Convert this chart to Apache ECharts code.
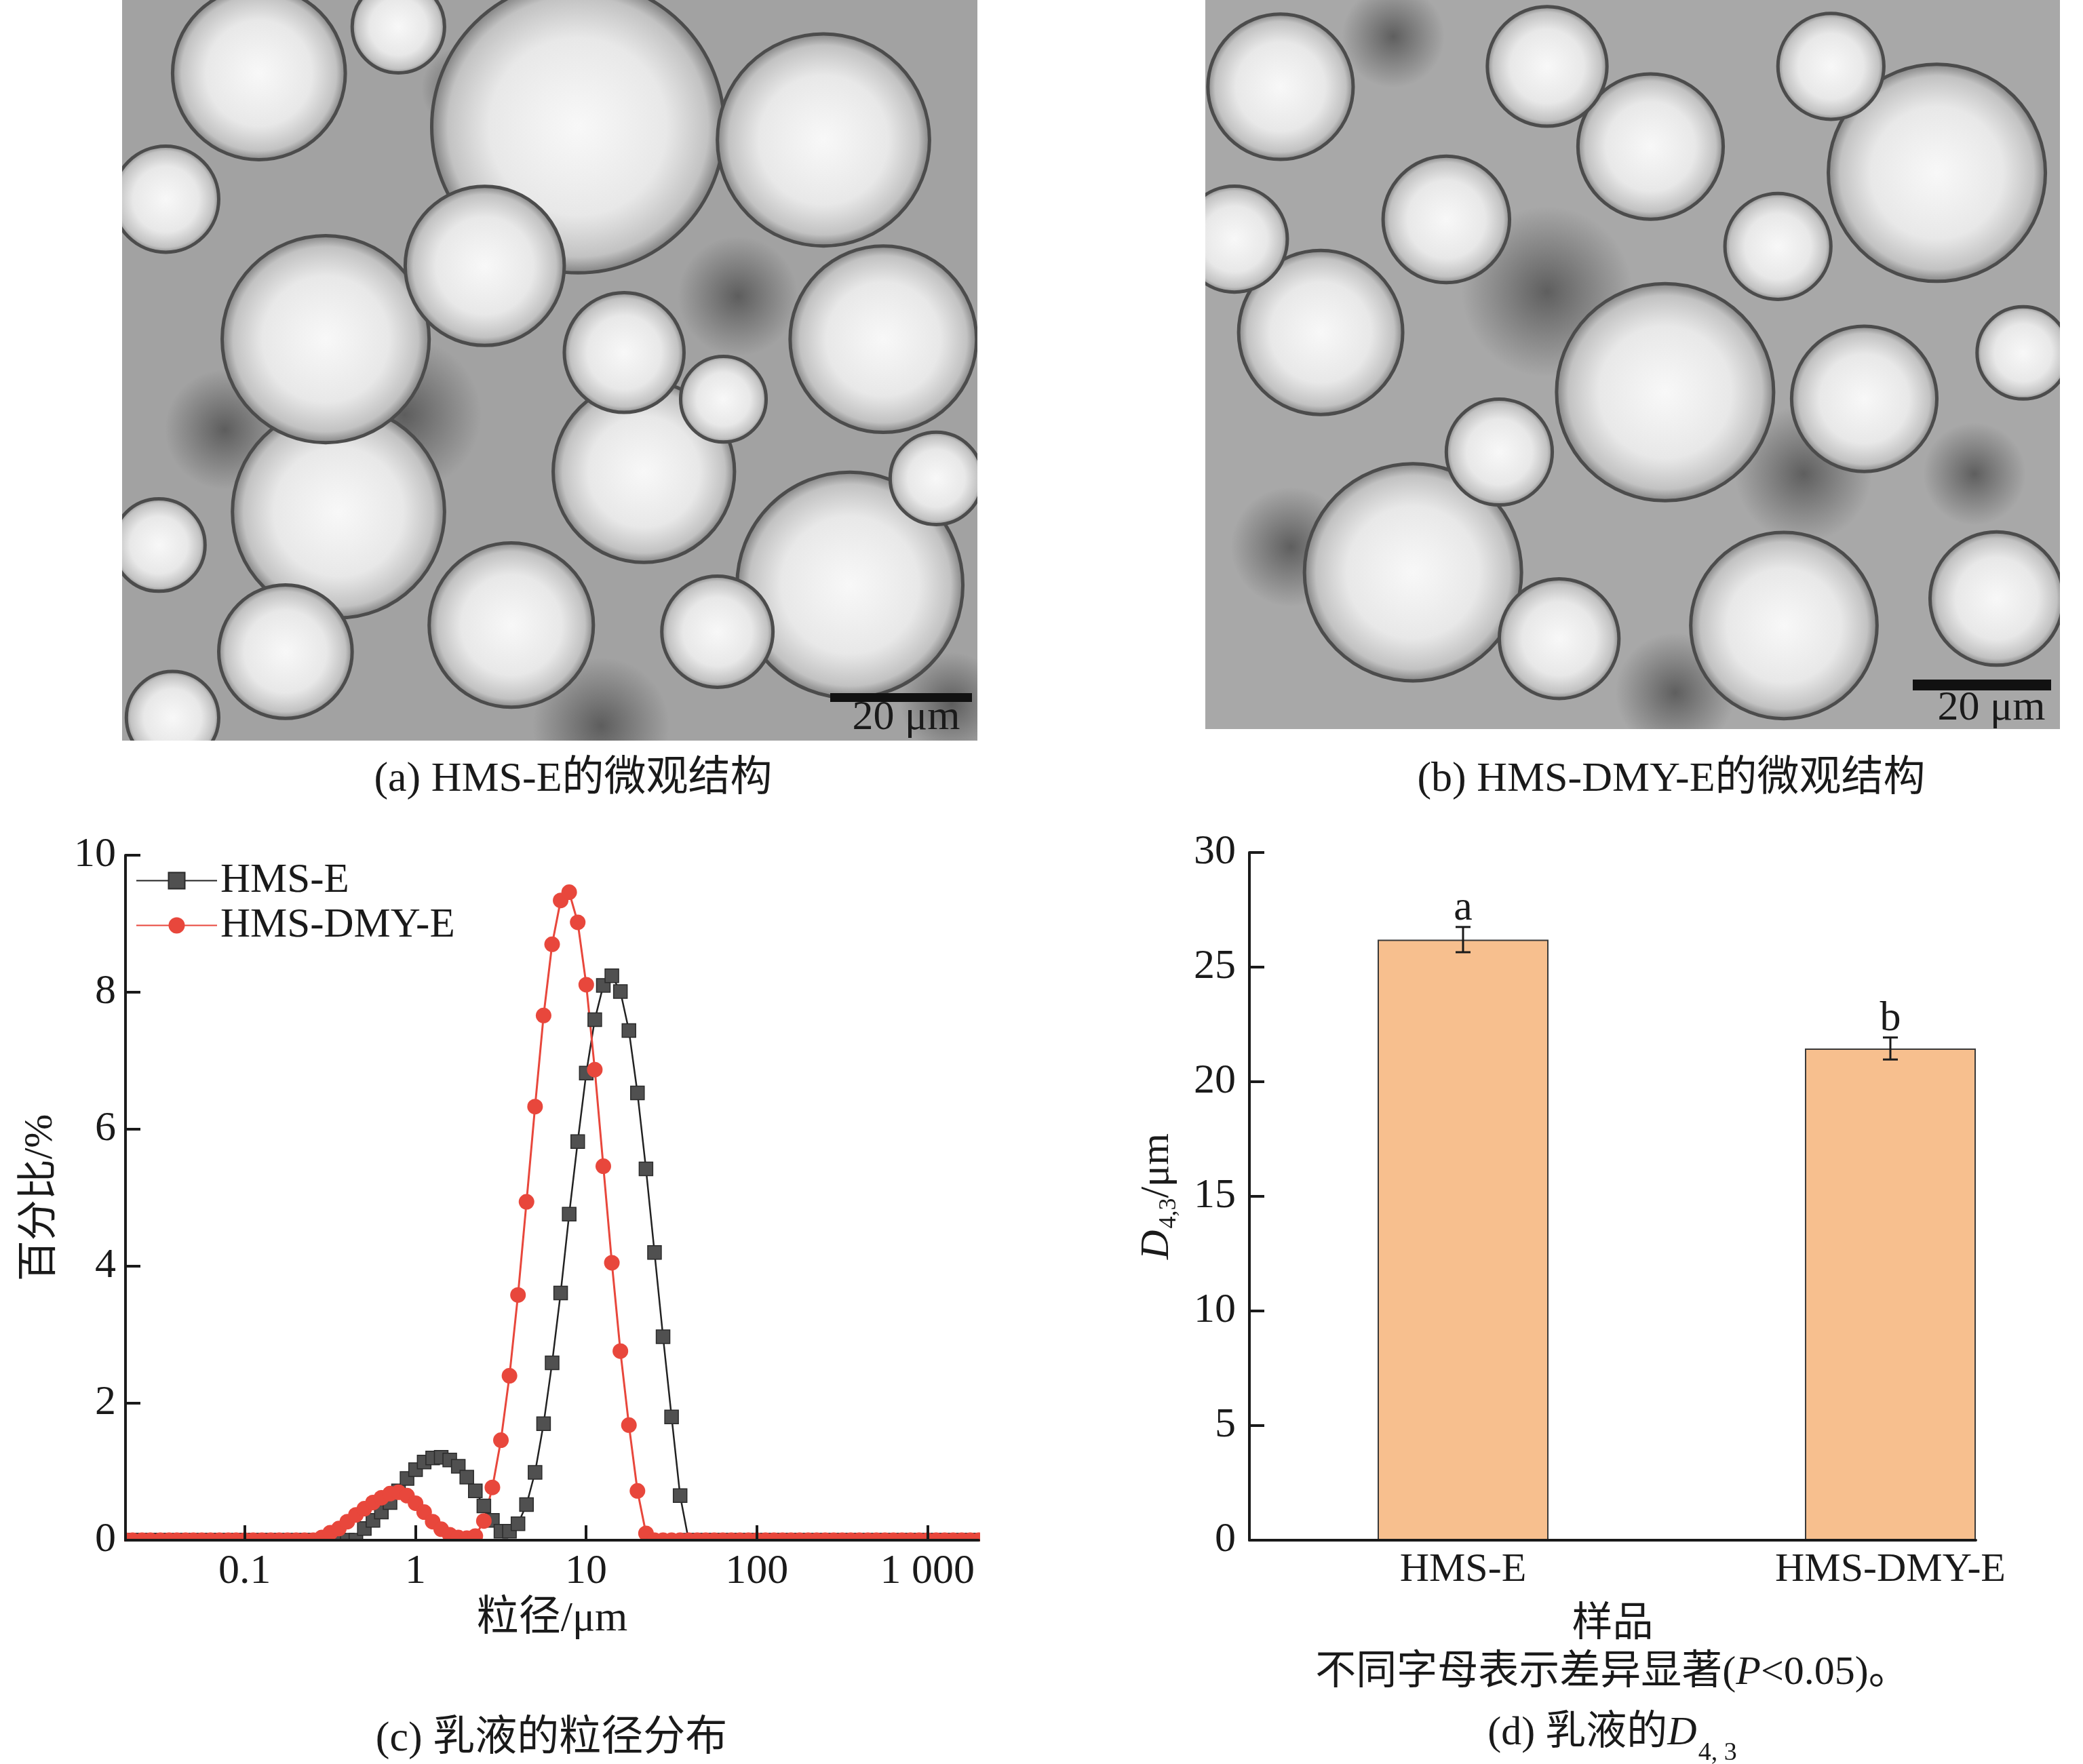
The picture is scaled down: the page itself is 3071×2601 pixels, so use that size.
<!DOCTYPE html>
<html lang="zh">
<head>
<meta charset="UTF-8">
<title>HMS emulsion</title>
<style>
  html, body { margin: 0; padding: 0; background: #fff; }
  #main { width: 3071px; height: 2601px; }
</style>
</head>
<body>
<div id="main"></div>
<script src="https://cdn.jsdelivr.net/npm/echarts@6/dist/echarts.min.js"></script>
<script>
// size classes of the laser diffraction (um)
const sizeUm = [
  0.020, 0.022, 0.025, 0.028, 0.032, 0.036, 0.040, 0.045, 0.050, 0.056, 0.063, 0.071, 0.080, 0.089,
  0.100, 0.112, 0.126, 0.142, 0.159, 0.178,
  0.200, 0.224, 0.252, 0.283, 0.317, 0.356, 0.399, 0.448, 0.502, 0.564, 0.632, 0.710, 0.796, 0.893,
  1.002, 1.125, 1.262, 1.416, 1.589, 1.783,
  2.000, 2.244, 2.518, 2.825, 3.170, 3.557, 3.991, 4.477, 5.024, 5.637, 6.325, 7.096, 7.962, 8.934,
  10.024, 11.247, 12.619, 14.159, 15.887, 17.825,
  20.000, 22.440, 25.179, 28.251, 31.698, 35.566, 39.905, 44.774, 50.238, 56.368, 63.246, 70.963, 79.621, 89.337,
  100.237, 112.468, 126.191, 141.589, 158.866, 178.250,
  200.000, 224.404, 251.785, 282.508, 316.979, 355.656, 399.052, 447.744, 502.377, 563.677, 632.456, 709.627, 796.214, 893.367,
  1002.374, 1124.683, 1261.915, 1415.892, 1588.656, 1782.502,
  2000.000
];
// percentage per size class
const hmsE = [
  0, 0, 0, 0, 0, 0, 0, 0, 0, 0, 0, 0, 0, 0, 0, 0, 0, 0, 0, 0,
  0, 0, 0, 0, 0, 0, 0, 0,
  0.17, 0.29, 0.41, 0.55, 0.72, 0.90, 1.03, 1.14, 1.20, 1.21,
  1.17, 1.08, 0.92, 0.72, 0.50, 0.29, 0.13, 0.13, 0.24, 0.52,
  0.99, 1.70, 2.59, 3.61, 4.76, 5.82, 6.82, 7.60, 8.10, 8.24,
  8.01, 7.44, 6.53, 5.42, 4.20, 2.97, 1.80, 0.65,
  0, 0, 0, 0, 0, 0, 0, 0, 0, 0, 0, 0, 0, 0, 0, 0, 0, 0, 0, 0,
  0, 0, 0, 0, 0, 0, 0, 0, 0, 0, 0, 0, 0, 0, 0
];
const hmsDmyE = [
  0, 0, 0, 0, 0, 0, 0, 0, 0, 0, 0, 0, 0, 0, 0, 0, 0, 0, 0, 0,
  0, 0, 0,
  0.04, 0.11, 0.17, 0.27, 0.37, 0.46, 0.55, 0.62, 0.68, 0.70,
  0.65, 0.54, 0.41, 0.27, 0.16, 0.08, 0.04, 0.03, 0.06, 0.28,
  0.77, 1.46, 2.40, 3.58, 4.94, 6.33, 7.66, 8.70, 9.34, 9.46,
  9.02, 8.11, 6.87, 5.46, 4.05, 2.76, 1.68, 0.72, 0.10,
  0, 0, 0, 0, 0, 0, 0, 0, 0, 0, 0, 0, 0, 0, 0, 0, 0, 0, 0, 0,
  0, 0, 0, 0, 0, 0, 0, 0, 0, 0, 0, 0, 0, 0, 0, 0, 0, 0, 0
];
const seriesNames = ['HMS-E', 'HMS-DMY-E'];
const sizeTicks = [0.1, 1, 10, 100, 1000];
const sizeTickText = ['0.1', '1', '10', '100', '1 000'];

const samples = ['HMS-E', 'HMS-DMY-E'];
const d43 = [26.2, 21.45];
const d43Err = [0.55, 0.48];
const sigLetters = ['a', 'b'];

// micrograph decoration: bubbles as fractions of the photo (cx, cy, r/width)
const bubblesA = [
  [.533, .171, .171], [.820, .189, .124], [.160, .099, .101], [.238, .458, .121], [.424, .359, .093],
  [.587, .476, .070], [.703, .539, .050], [.890, .458, .109], [.253, .691, .124], [.610, .637, .106],
  [.851, .790, .132], [.455, .844, .096], [.191, .880, .078], [.043, .736, .054], [.952, .646, .054],
  [.051, .269, .062], [.696, .853, .065], [.323, .036, .054], [.059, .969, .054]
];
const bubblesB = [
  [.243, .785, .127], [.538, .538, .127], [.856, .237, .127], [.521, .201, .085], [.135, .456, .096],
  [.282, .301, .074], [.771, .547, .085], [.957, .484, .054], [.088, .119, .085], [.677, .858, .109],
  [.926, .821, .078], [.400, .091, .070], [.670, .338, .062], [.414, .876, .070], [.344, .620, .062],
  [.732, .091, .062], [.034, .328, .062]
];
// darker smudges between the droplets
const shadowsA = [[.33, .56, .09], [.72, .40, .07], [.12, .58, .07], [.56, .98, .08], [.97, .95, .06], [.40, .12, .05]];
const shadowsB = [[.40, .40, .10], [.10, .75, .07], [.70, .65, .08], [.90, .65, .06], [.55, .95, .07], [.22, .05, .06]];

const FONT = '"Liberation Serif", "Times New Roman", "Noto Sans CJK SC", serif';
const INK = '#1a1a1a';
const RED = '#E8473C';

function photo(x, y, w, h, base, bubbles, shadows) {
  const els = [{ type: 'rect', shape: { x: x, y: y, width: w, height: h }, style: { fill: base }, z: 0 }];
  shadows.forEach(s => {
    els.push({
      type: 'circle', z: 0,
      shape: { cx: x + s[0] * w, cy: y + s[1] * h, r: s[2] * w },
      style: {
        fill: new echarts.graphic.RadialGradient(0.5, 0.5, 0.5, [
          { offset: 0, color: 'rgba(70,70,70,0.75)' },
          { offset: 1, color: 'rgba(70,70,70,0)' }
        ])
      }
    });
  });
  bubbles.slice().sort((p, q) => q[2] - p[2]).forEach(b => {
    els.push({
      type: 'circle',
      shape: { cx: x + b[0] * w, cy: y + b[1] * h, r: b[2] * w },
      style: {
        fill: new echarts.graphic.RadialGradient(0.5, 0.5, 0.5, [
          { offset: 0, color: '#f8f8f8' },
          { offset: 0.6, color: '#e8e8e8' },
          { offset: 0.88, color: '#c2c2c2' },
          { offset: 1, color: '#7c7c7c' }
        ]),
        stroke: '#4c4c4c',
        lineWidth: 5
      },
      z: 1
    });
  });
  return els;
}

function mask(x, y, w, h) {
  return { type: 'rect', shape: { x: x, y: y, width: w, height: h }, style: { fill: '#fff' }, z: 5 };
}

function label(text, x, y, size, extra) {
  return Object.assign({
    type: 'text', x: x, y: y, z: 6,
    style: {
      text: text, fontSize: size, fontFamily: FONT, fill: INK,
      align: 'center', verticalAlign: 'middle', textAlign: 'center', textVerticalAlign: 'middle'
    }
  }, extra || {});
}

const chart = echarts.init(document.getElementById('main'), null, { renderer: 'canvas' });

const logTickVals = sizeTicks.map(t => Math.log10(t));
function sizeLabel(v) {
  const i = logTickVals.findIndex(t => Math.abs(t - v) < 1e-6);
  return i >= 0 ? sizeTickText[i] : '';
}

const axisLineStyle = { color: INK, width: 4 };
const labelStyle = { fontSize: 62, fontFamily: FONT, color: INK };

const graphics = []
  .concat(photo(180, 0, 1261, 1092, '#a2a2a2', bubblesA, shadowsA))
  .concat(photo(1777, 0, 1260, 1075, '#a8a8a8', bubblesB, shadowsB))
  .concat([
    mask(0, 0, 180, 1200), mask(1441, 0, 336, 1200), mask(3037, 0, 40, 1200),
    mask(180, 1092, 1261, 108), mask(1777, 1075, 1260, 125),
    // scale bars
    { type: 'rect', shape: { x: 1224, y: 1022, width: 209, height: 13 }, style: { fill: '#111' }, z: 6 },
    label('20 μm', 1336, 1059, 62),
    { type: 'rect', shape: { x: 2820, y: 1002, width: 204, height: 16 }, style: { fill: '#111' }, z: 6 },
    label('20 μm', 2936, 1045, 62),
    label('(a) HMS-E的微观结构', 845, 1150, 62),
    label('(b) HMS-DMY-E的微观结构', 2464, 1150, 62),
    label('(c) 乳液的粒径分布', 813, 2565, 62),
    // clip the markers that sit on the zero line of panel (c)
    mask(150, 2273, 1330, 18), mask(150, 2240, 33, 50), mask(1445, 2240, 35, 50),
    {
      type: 'text', x: 2377, y: 2467, z: 6,
      style: {
        text: '{n|不同字母表示差异显著(}{i|P}{n|<0.05)。}',
        align: 'center', verticalAlign: 'middle', textAlign: 'center', textVerticalAlign: 'middle',
        rich: {
          n: { fontSize: 60, fontFamily: FONT, fill: INK, color: INK },
          i: { fontSize: 60, fontFamily: FONT, fontStyle: 'italic', fill: INK, color: INK }
        }
      }
    },
    {
      type: 'text', x: 2377, y: 2565, z: 6,
      style: {
        text: '{n|(d) 乳液的}{i|D}{s|4, 3}',
        align: 'center', verticalAlign: 'middle', textAlign: 'center', textVerticalAlign: 'middle',
        rich: {
          n: { fontSize: 60, fontFamily: FONT, fill: INK, color: INK, verticalAlign: 'top' },
          i: { fontSize: 60, fontFamily: FONT, fontStyle: 'italic', fill: INK, color: INK, verticalAlign: 'top' },
          s: { fontSize: 38, fontFamily: FONT, fill: INK, color: INK, verticalAlign: 'top', padding: [40, 0, 0, 2] }
        }
      }
    }
  ]);

const option = {
  backgroundColor: '#fff',
  animation: false,
  textStyle: { fontFamily: FONT },
  graphic: { elements: graphics },
  legend: {
    data: seriesNames,
    orient: 'vertical',
    left: 200, top: 1268,
    padding: 0,
    itemWidth: 119, itemHeight: 30, itemGap: 5,
    selectedMode: false,
    textStyle: { fontSize: 61, fontFamily: FONT, color: INK, lineHeight: 60 }
  },
  grid: [
    { left: 185, top: 1261, width: 1258, height: 1010 },
    { left: 1842, top: 1257, width: 1071, height: 1014 }
  ],
  xAxis: [
    {
      type: 'value', gridIndex: 0, z: 10,
      min: Math.log10(0.02), max: Math.log10(2000),
      splitLine: { show: false },
      axisLine: { onZero: false, lineStyle: axisLineStyle },
      axisTick: { inside: true, length: 22, lineStyle: axisLineStyle, customValues: logTickVals },
      axisLabel: Object.assign({ margin: 16, customValues: logTickVals, formatter: sizeLabel }, labelStyle),
      name: '粒径/μm', nameLocation: 'middle', nameGap: 86,
      nameTextStyle: { fontSize: 62, fontFamily: FONT, color: INK }
    },
    {
      type: 'value', gridIndex: 1, z: 10,
      min: 0.5, max: 2.2,
      splitLine: { show: false },
      axisLine: { onZero: false, lineStyle: axisLineStyle },
      axisTick: { show: false },
      axisLabel: Object.assign({ margin: 14, customValues: [1, 2], formatter: v => samples[Math.round(v) - 1] || '' }, labelStyle, { fontSize: 60 }),
      name: '样品', nameLocation: 'middle', nameGap: 95,
      nameTextStyle: { fontSize: 60, fontFamily: FONT, color: INK }
    }
  ],
  yAxis: [
    {
      type: 'value', gridIndex: 0, z: 10,
      min: 0, max: 10, interval: 2,
      splitLine: { show: false },
      axisLine: { show: true, onZero: false, lineStyle: axisLineStyle },
      axisTick: { show: true, inside: true, length: 22, lineStyle: axisLineStyle },
      axisLabel: Object.assign({ margin: 14 }, labelStyle),
      name: '百分比/%', nameLocation: 'middle', nameGap: 95,
      nameTextStyle: { fontSize: 60, fontFamily: FONT, color: INK }
    },
    {
      type: 'value', gridIndex: 1, z: 10,
      min: 0, max: 30, interval: 5,
      splitLine: { show: false },
      axisLine: { show: true, onZero: false, lineStyle: axisLineStyle },
      axisTick: { show: true, inside: true, length: 22, lineStyle: axisLineStyle },
      axisLabel: Object.assign({ margin: 20 }, labelStyle),
      name: '{i|D}{s|4,3}{n|/μm}', nameLocation: 'middle', nameGap: 100,
      nameTextStyle: {
        fontSize: 60, fontFamily: FONT, color: INK,
        rich: {
          i: { fontSize: 60, fontFamily: FONT, fontStyle: 'italic', color: INK, verticalAlign: 'top' },
          s: { fontSize: 36, fontFamily: FONT, color: INK, verticalAlign: 'top', padding: [30, 0, 0, 2] },
          n: { fontSize: 60, fontFamily: FONT, color: INK, verticalAlign: 'top' }
        }
      }
    }
  ],
  series: [
    {
      name: seriesNames[0], type: 'line', xAxisIndex: 0, yAxisIndex: 0, z: 2,
      data: sizeUm.map((s, i) => [Math.log10(s), hmsE[i]]),
      symbol: 'rect', symbolSize: 20,
      itemStyle: { color: '#505050', borderColor: '#2b2b2b', borderWidth: 1.5 },
      lineStyle: { color: '#222', width: 2.5 },
      emphasis: { disabled: true }
    },
    {
      name: seriesNames[1], type: 'line', xAxisIndex: 0, yAxisIndex: 0, z: 2,
      data: sizeUm.map((s, i) => [Math.log10(s), hmsDmyE[i]]),
      symbol: 'circle', symbolSize: 23,
      itemStyle: { color: RED },
      lineStyle: { color: RED, width: 3 },
      emphasis: { disabled: true }
    },
    {
      name: 'D43', type: 'bar', xAxisIndex: 1, yAxisIndex: 1,
      data: samples.map((s, i) => [i + 1, d43[i]]),
      barWidth: 252,
      itemStyle: { color: '#F7BF8E', borderColor: '#3a3a3a', borderWidth: 2 },
      emphasis: { disabled: true }
    },
    {
      name: 'err', type: 'custom', xAxisIndex: 1, yAxisIndex: 1, z: 4,
      data: samples.map((s, i) => [i + 1, d43[i] - d43Err[i], d43[i] + d43Err[i], i]),
      encode: { x: 0, y: [1, 2] },
      renderItem: function (params, api) {
        const top = api.coord([api.value(0), api.value(2)]);
        const bot = api.coord([api.value(0), api.value(1)]);
        const w = 11;
        const ln = { stroke: '#1a1a1a', lineWidth: 3 };
        return {
          type: 'group',
          children: [
            { type: 'line', shape: { x1: top[0], y1: top[1], x2: bot[0], y2: bot[1] }, style: ln },
            { type: 'line', shape: { x1: top[0] - w, y1: top[1], x2: top[0] + w, y2: top[1] }, style: ln },
            { type: 'line', shape: { x1: bot[0] - w, y1: bot[1], x2: bot[0] + w, y2: bot[1] }, style: ln },
            {
              type: 'text', x: top[0], y: top[1] + 4,
              style: {
                text: sigLetters[api.value(3)], fontSize: 62, fontFamily: FONT, fill: INK,
                align: 'center', verticalAlign: 'bottom'
              }
            }
          ]
        };
      }
    }
  ]
};

chart.setOption(option);
</script>
</body>
</html>
